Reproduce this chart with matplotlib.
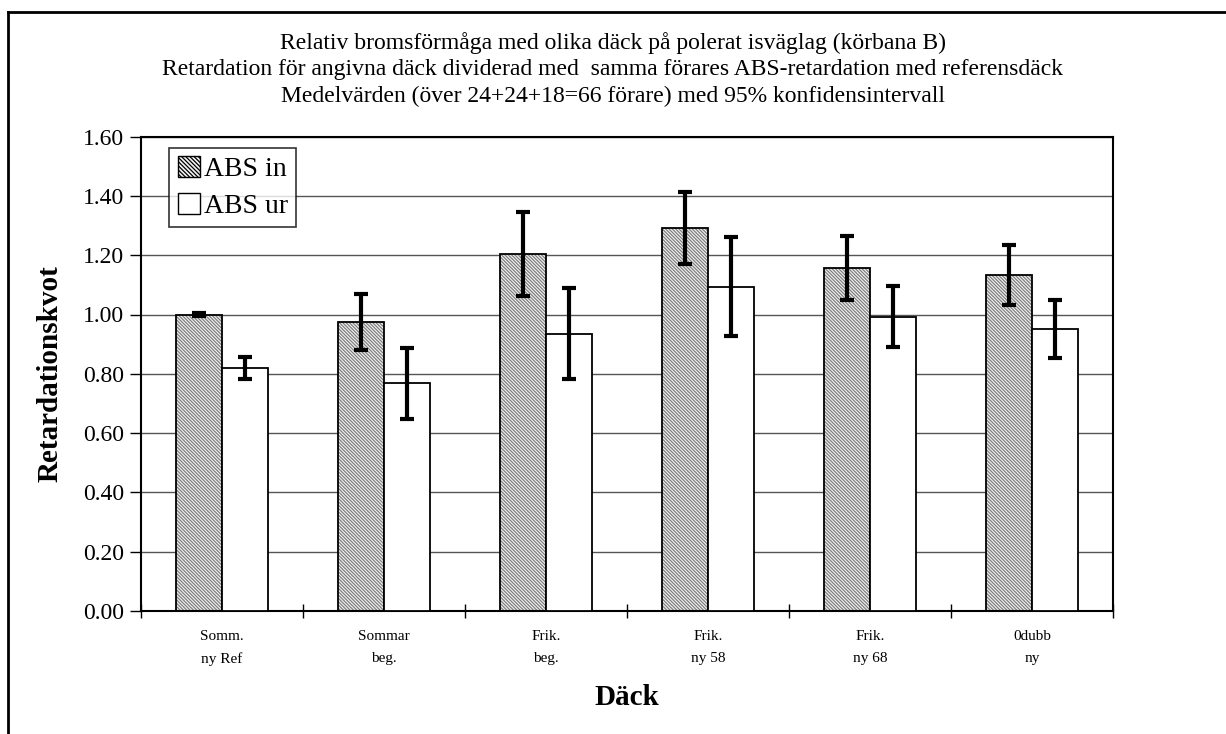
import matplotlib
matplotlib.use("Agg")
import matplotlib.pyplot as plt
import numpy as np
from matplotlib.lines import Line2D
from matplotlib.patches import Patch

categories = ["Somm.\nny Ref", "Sommar\nbeg.", "Frik.\nbeg.", "Frik.\nny 58", "Frik.\nny 68", "0dubb\nny"]
abs_in = [1.00, 0.974, 1.204, 1.291, 1.158, 1.133]
abs_in_err = [0.004, 0.095, 0.141, 0.122, 0.108, 0.101]
abs_ur = [0.82, 0.768, 0.935, 1.094, 0.993, 0.950]
abs_ur_err = [0.038, 0.120, 0.153, 0.166, 0.103, 0.098]
series_names = ["ABS in", "ABS ur"]
yticks = [0.0, 0.2, 0.4, 0.6, 0.8, 1.0, 1.2, 1.4, 1.6]
title_lines = [
    "Relativ bromsförmåga med olika däck på polerat isväglag (körbana B)",
    "Retardation för angivna däck dividerad med  samma förares ABS-retardation med referensdäck",
    "Medelvärden (över 24+24+18=66 förare) med 95% konfidensintervall",
]

plt.rcParams['font.family'] = ['Liberation Serif', 'DejaVu Serif']
plt.rcParams['hatch.linewidth'] = 0.9

W, H = 1226, 734
fig = plt.figure(figsize=(W / 100, H / 100), dpi=100)
ax = fig.add_axes([141 / W, 1 - 611 / H, (1113 - 141) / W, (611 - 136.6) / H])

# outer frame (top and left visible)
fig.add_artist(Line2D([7.5 / W, 7.5 / W], [0, 1 - 12 / H], transform=fig.transFigure, color='black', lw=2))
fig.add_artist(Line2D([7.5 / W, 1.0], [1 - 12 / H, 1 - 12 / H], transform=fig.transFigure, color='black', lw=2))

x = np.arange(len(categories))
bw = 0.284
xin = x - bw / 2
xur = x + bw / 2

hatch_pat = '\\' * 10
hatch_face = '#f4f4f4'
hatch_col = '#7f7f7f'

ax.bar(xin, abs_in, bw, color=hatch_face, edgecolor=hatch_col, hatch=hatch_pat, linewidth=0, zorder=2)
ax.bar(xin, abs_in, bw, color='none', edgecolor='black', linewidth=1.3, zorder=3)
ax.bar(xur, abs_ur, bw, color='white', edgecolor='black', linewidth=1.3, zorder=3)

ax.errorbar(xin, abs_in, yerr=abs_in_err, fmt='none', ecolor='black', elinewidth=3, capsize=5, capthick=3, zorder=4)
ax.errorbar(xur, abs_ur, yerr=abs_ur_err, fmt='none', ecolor='black', elinewidth=3, capsize=5, capthick=3, zorder=4)

ax.set_xlim(-0.5, len(categories) - 0.5)
ax.set_ylim(0, 1.6)
ax.set_yticks(yticks)
ax.set_yticklabels([f"{v:.2f}" for v in yticks], fontsize=17)
ax.yaxis.grid(True, color='#555555', linewidth=1.0, zorder=0)
ax.set_axisbelow(True)
ax.tick_params(axis='y', direction='out', length=8, width=1, pad=4)

ax.set_xticks(x)
ax.set_xticklabels(categories, fontsize=11, linespacing=1.85)
ax.tick_params(axis='x', which='major', length=0, pad=14)
ax.set_xticks(np.arange(len(categories) + 1) - 0.5, minor=True)
ax.tick_params(axis='x', which='minor', direction='inout', length=10, width=1)

for s in ax.spines.values():
    s.set_linewidth(1.5)
    s.set_color('black')

ax.set_ylabel("Retardationskvot", fontsize=21, fontweight='bold', labelpad=14)
ax.set_xlabel("Däck", fontsize=21, fontweight='bold', labelpad=13)

for i, line in enumerate(title_lines):
    fig.text(0.5, 1 - (43 + 26.5 * i) / H, line, ha='center', va='center', fontsize=17)

handles = [Patch(facecolor=hatch_face, edgecolor='black', hatch='\\' * 8, linewidth=1),
           Patch(facecolor='white', edgecolor='black', linewidth=1)]
leg = ax.legend(handles, series_names, loc='upper left', bbox_to_anchor=(0.029, 0.976),
                fontsize=20, frameon=True, fancybox=False, edgecolor='black',
                handlelength=0.8, handleheight=0.75, handletextpad=0.15,
                borderpad=0.3, labelspacing=0.4, borderaxespad=0)
leg.get_frame().set_linewidth(1.2)

fig.savefig("out.png", dpi=100)
